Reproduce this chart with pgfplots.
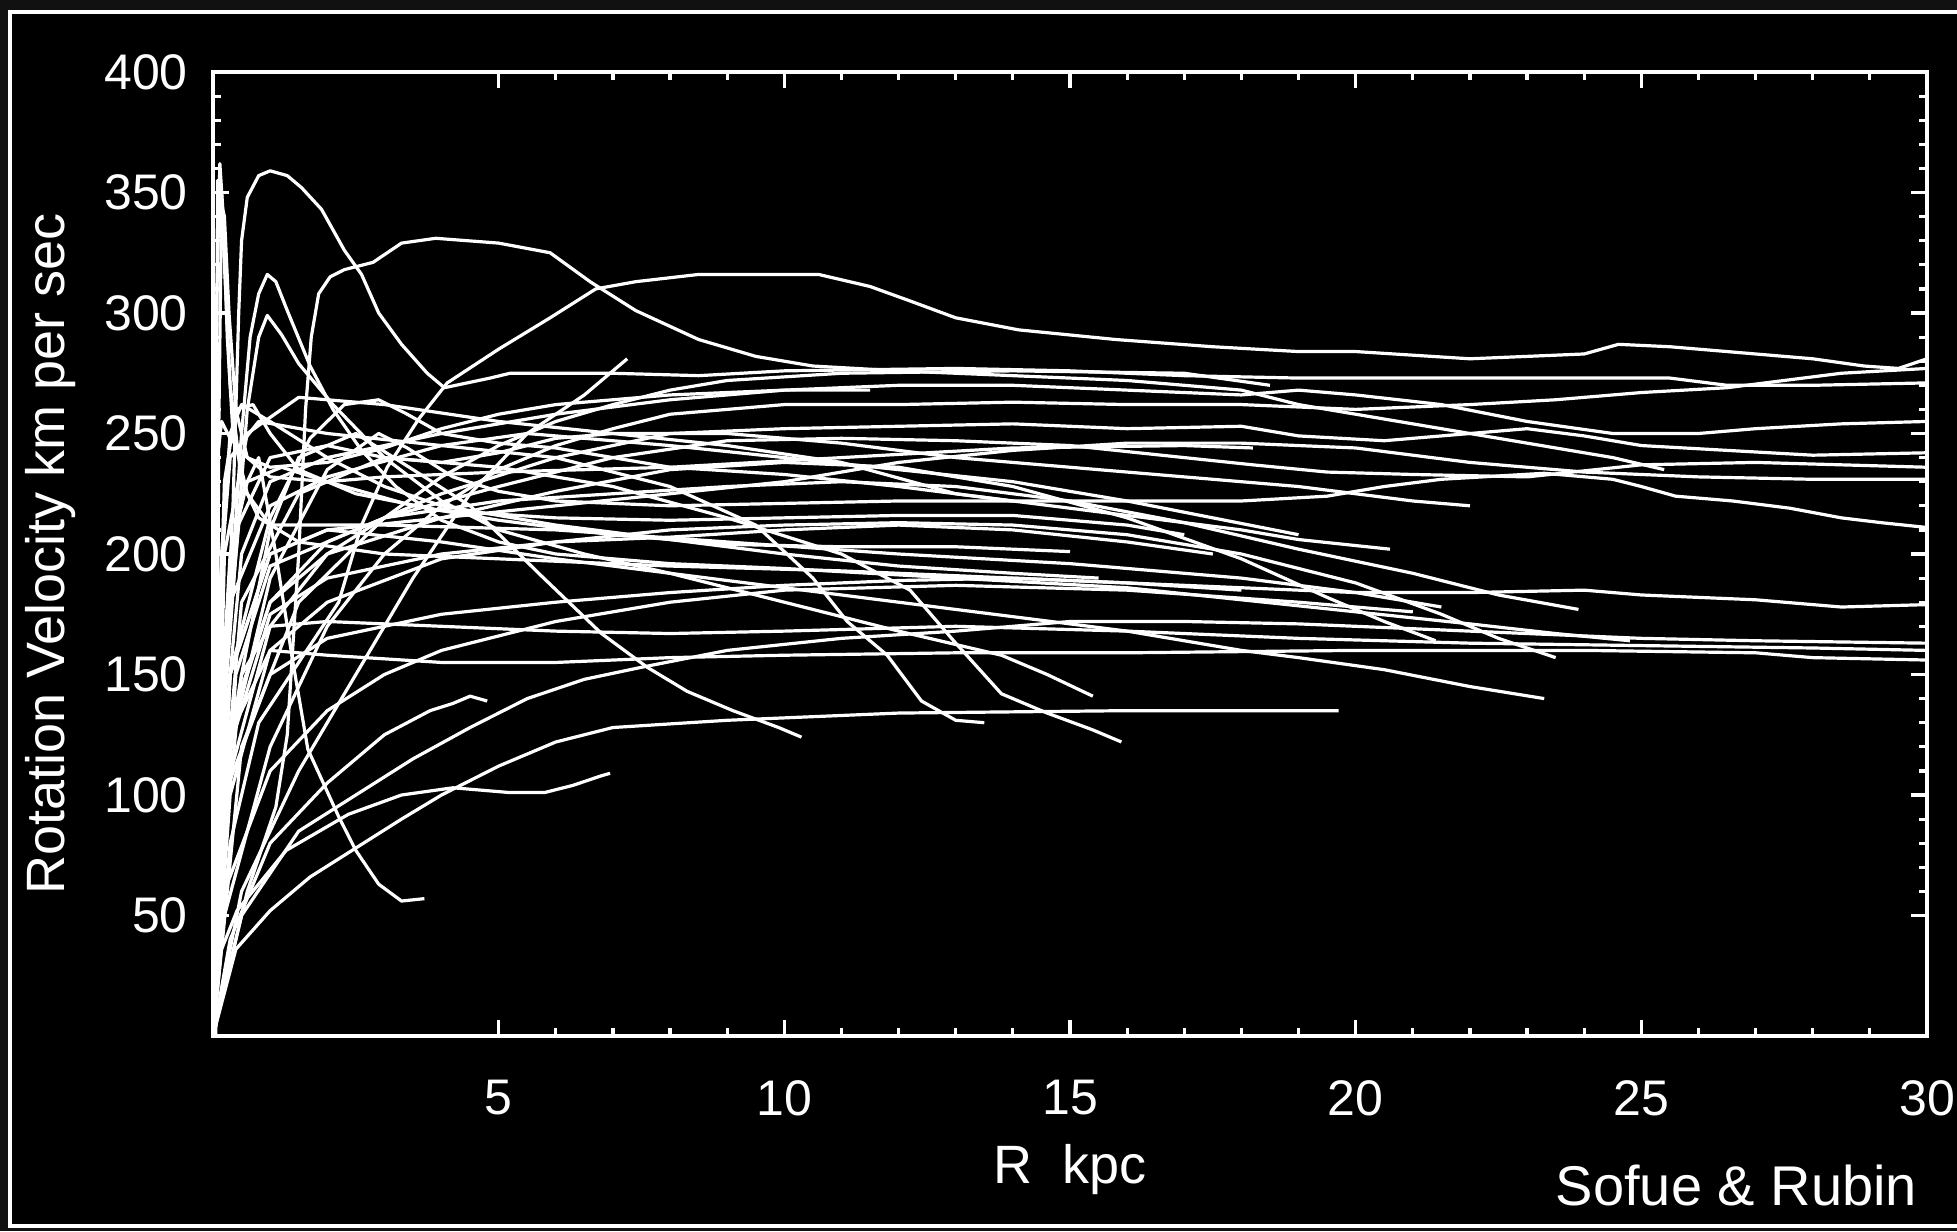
\documentclass[border=0pt]{standalone}
\usepackage{pgfplots}
\pgfplotsset{compat=1.18}
\usepackage{fontspec}
\setmainfont{Liberation Sans}
\definecolor{outerbg}{HTML}{111111}
\tikzset{rc/.style={white, line width=0.8pt, line join=round}}
\begin{document}
\begin{tikzpicture}
\useasboundingbox (-53.25pt,-48.75pt) rectangle (436pt,259pt);
\fill[outerbg] (-53.25pt,-48.75pt) rectangle (436pt,259pt);
\fill[black] (-50.75pt,-47.5pt) rectangle (440pt,256pt);
\draw[white, line width=0.9pt] (-50.75pt,-47.5pt) rectangle (440pt,256pt);
\begin{axis}[
  scale only axis, width=428.5pt, height=241pt,
  at={(0pt,0pt)}, anchor=south west,
  xmin=0, xmax=30, ymin=0, ymax=400,
  xtick={5,10,15,20,25,30}, ytick={50,100,...,400},
  minor x tick num=4, minor y tick num=4,
  tick align=inside,
  major tick length=4pt, minor tick length=2pt,
  axis line style={white, line width=0.9pt},
  tick style={white, line width=0.8pt},
  /pgf/number format/assume math mode=true,
  tick label style={text=white, font=\fontsize{12.5}{14}\selectfont},
  xticklabel style={yshift=-7.5pt},
  yticklabel style={xshift=-2.8pt},
  xlabel={R\ \ kpc}, ylabel={Rotation Velocity km per sec},
  label style={text=white, font=\fontsize{13.5}{15}\selectfont},
  xlabel style={at={(axis description cs:0.5,-0.138)}, anchor=center},
  ylabel style={at={(axis description cs:-0.095,0.5)}, anchor=center},
]
% c1
\addplot[rc] coordinates {(0,0) (0.15,120) (0.35,220) (0.45,300) (0.5,330) (0.6,348) (0.8,357) (1.0,359) (1.3,357) (1.55,352) (1.9,343) (2.3,326) (2.6,316) (2.9,300) (3.3,287) (3.75,275) (4.05,269) (4.85,273) (5.2,275) (7,275) (8.5,274) (10,276) (13,277) (15,276) (17,274) (19,273) (22,273) (25.5,273) (26.5,270) (28,270) (30,271)};
% c2
\addplot[rc] coordinates {(0,0) (0.6,60) (1.1,95) (1.3,125) (1.5,200) (1.62,260) (1.72,290) (1.85,308) (2.05,315) (2.3,318) (2.8,321) (3.3,329) (3.9,331) (5.0,329) (5.9,325) (6.6,313) (7.4,301) (8.5,289) (9.5,282) (10.5,278) (12,276) (14,274) (16,272) (18,268) (19,262) (20,258) (21.5,252) (22.5,248) (23.5,244) (24.5,240) (25.4,235)};
% c3
\addplot[rc] coordinates {(0,0) (0.3,80) (0.8,130) (1.5,155) (2.2,180) (2.6,212) (3.05,236) (3.6,256) (4.1,271) (5,285) (5.9,298) (6.7,310) (7.4,313) (8.5,316) (10.6,316) (11.5,311) (12.2,305) (13,298) (14.1,293) (15.8,289) (17.5,286) (19,284) (20,284) (22,281) (23,282) (24,283) (24.6,287) (25.5,286) (27,283) (28,281) (28.9,278) (29.5,277) (30,281)};
% c4
\addplot[rc] coordinates {(0,0) (0.5,60) (1.5,110) (2.5,150) (3.5,190) (4.5,225) (5.5,250) (6.5,266) (7.25,281)};
% c5
\addplot[rc] coordinates {(0,0) (0.1,100) (0.3,180) (0.5,250) (0.65,290) (0.8,308) (0.95,316) (1.1,313) (1.3,301) (1.7,278) (2.1,260) (2.6,243) (3.2,228) (4,214) (5,205) (6,200) (8,196) (10,194) (13,190) (16,186) (18,181) (20,176) (22,171) (23.5,167) (24.8,164)};
% c6
\addplot[rc] coordinates {(0,0) (0.15,120) (0.4,200) (0.6,260) (0.8,290) (0.95,299) (1.2,291) (1.5,279) (2.1,262) (3,240) (4,222) (5,210) (6.5,200) (8,192) (10,180) (12,168) (13.8,158) (14.6,150) (15.4,141)};
% c7
\addplot[rc] coordinates {(0,0) (0.1,90) (0.25,160) (0.5,225) (0.8,240) (1.1,200) (1.4,155) (1.66,119) (2.2,91) (2.5,77) (2.9,63) (3.3,56) (3.7,57)};
% c8
\addplot[rc] coordinates {(0,0) (0.1,80) (0.3,150) (1,215) (1.7,248) (2.3,262) (2.9,264) (3.4,258) (4,250) (5,246) (6,244) (7,240) (8,236) (10,233) (12,228) (14,222) (16,216) (18,210) (19,206) (20.6,202)};
% c9
\addplot[rc] coordinates {(0,0) (0.1,60) (0.3,120) (1,190) (2,235) (2.9,250) (3.4,244) (4.2,232) (5,226) (6,222) (8,220) (10,221) (12,222) (15,222) (18,222) (19.5,224) (20.5,228) (21.5,231) (23.3,233.5) (24.5,231) (25,228) (25.6,224) (26.6,222) (27.6,219) (28.5,215) (29.2,213) (30,211)};
% c10
\addplot[rc] coordinates {(0,0) (0.2,50) (1,120) (2,170) (3,200) (4,220) (5,235) (6,245) (7,252) (8,258) (10,262) (12,262) (14,263) (16,262) (18,262) (20,260) (22,262) (23.5,264) (25,267) (26.5,269) (27.5,272) (28.5,275) (30,277)};
% c11
\addplot[rc] coordinates {(0,0) (0.1,100) (0.5,200) (1,230) (2,240) (4,250) (6,258) (8,264) (10,268) (12,270) (14,270) (16,268) (18,266) (19,268) (20,266) (21.5,262) (23,255) (24.5,250) (26,250) (27,252) (28.5,254) (30,255)};
% c12
\addplot[rc] coordinates {(0,0) (0.2,120) (1,180) (2,205) (4,225) (6,240) (8,250) (10,252) (12,253) (14,254) (16,252) (18,253) (19,249) (20.5,247) (22,250) (23,252) (24,249) (25,245) (26.5,243) (28,241) (30,242)};
% c13
\addplot[rc] coordinates {(0,0) (0.2,100) (1,170) (2,200) (3,215) (5,228) (7,240) (9,247) (11,248) (13,247) (15,245) (17,240) (18.2,237) (19.5,234) (21,233) (23,232) (25,237) (27,238) (30,236)};
% c14
\addplot[rc] coordinates {(0,0) (0.3,150) (1,200) (2,210) (4,215) (6,220) (8,225) (10,230) (12,238) (14,243) (16,246) (18,246) (20,244) (22,238) (24,234) (26,232) (28,231) (30,231)};
% c15
\addplot[rc] coordinates {(0,0) (0.2,100) (1,150) (2,165) (4,175) (6,180) (8,184) (10,187) (12,189) (14,190) (16,188) (18,186) (20,184) (22,184) (24,185) (25,183) (27,181) (28.5,178) (30,179)};
% c16
\addplot[rc] coordinates {(0,0) (0.5,50) (1.5,85) (2.5,100) (3.5,115) (4.5,128) (5.5,140) (6.5,148) (7.5,153) (9,160) (11,165) (13,168) (15,172) (17,172) (19,171) (21,169) (23,167) (25,165) (27,164) (30,163)};
% c17
\addplot[rc] coordinates {(0,0) (0.2,120) (1,160) (2,158) (4,155) (6,155) (8,157) (10,158) (13,159) (16,159) (20,160) (24,160) (27,159) (28,157) (30,156)};
% c18
\addplot[rc] coordinates {(0,0) (0.4,36) (1,52) (1.7,66) (2.5,78) (3.3,90) (4,100) (5,112) (6,122) (7,128) (9,131) (12,134) (16,135) (19.7,135)};
% c19
\addplot[rc] coordinates {(0,0) (0.3,150) (1,200) (2,210) (4,205) (6,198) (8,192) (10,186) (12,180) (14,174) (16,168) (18,160) (19,157) (20.5,152) (22,145) (23.3,140)};
% c20
\addplot[rc] coordinates {(0,0) (0.2,80) (0.5,150) (1,210) (1.5,240) (2.5,250) (3.5,235) (4.5,220) (5.7,192) (6.8,167) (7.6,153) (8.3,143) (9.1,135) (9.9,128) (10.3,124)};
% c21
\addplot[rc] coordinates {(0,0) (0.1,100) (0.3,180) (1,220) (2,232) (4,245) (6,240) (8,228) (9.5,212) (10.5,190) (11.1,172) (11.8,158) (12.4,139) (13,131) (13.5,130)};
% c22
\addplot[rc] coordinates {(0,0) (0.2,100) (0.5,180) (1.5,225) (3,240) (5,236) (7,228) (9,215) (11,200) (12.2,185) (13,163) (13.8,142) (14.6,134) (15.4,127) (15.9,122)};
% c24
\addplot[rc] coordinates {(0,0) (0.3,120) (1,175) (2,190) (4,200) (6,205) (8,207) (10,210) (12,212) (14,210) (16,205) (17.5,200)};
% c25
\addplot[rc] coordinates {(0,0) (0.4,150) (1,195) (3,215) (5,222) (7,225) (9,228) (11,230) (13,228) (15,222) (17,213) (19,202) (21,192) (22.5,183) (23.9,177)};
% c26
\addplot[rc] coordinates {(0,0) (0.3,130) (1,180) (2,200) (4,215) (6,226) (8,235) (10,238) (12,236) (14,228) (16,215) (18,198) (19.5,182) (20.5,172) (21.4,164)};
% c27
\addplot[rc] coordinates {(0,0) (0.3,100) (1,160) (2,180) (4,198) (6,205) (8,210) (10,212) (12,213) (14,212) (16,208) (18,200) (20,188) (21.5,175) (22.5,165) (23.5,157)};
% c28
\addplot[rc] coordinates {(0,0) (0.3,40) (1,80) (2,105) (3,125) (3.8,135) (4.2,138) (4.5,141) (4.8,139)};
% c29
\addplot[rc] coordinates {(0,0) (0.1,33) (0.42,52) (1.28,77) (2.37,92) (3.3,100) (4.2,103) (5.2,101) (5.8,101) (6.3,104) (6.8,108) (6.95,109)};
% c30
\addplot[rc] coordinates {(0,0) (0.15,100) (0.5,150) (1,170) (2,172) (4,170) (6,168) (8,167) (10,168) (13,170) (16,168) (19,165) (22,163) (25,162) (28,161) (30,160)};
% c31
\addplot[rc] coordinates {(0,0) (0.2,60) (1,110) (2,135) (3,150) (4,160) (6,172) (8,180) (10,185) (13,187) (16,185) (19,180) (21,176)};
% c32
\addplot[rc] coordinates {(0,0) (0.06,300) (0.12,362) (0.18,340) (0.25,290) (0.35,250) (0.6,225) (1,212) (3,212) (6,210) (9,205) (12,200) (15,196) (18,190) (20,184) (21.5,178)};
% c33
\addplot[rc] coordinates {(0.02,0) (0.05,200) (0.08,355) (0.15,350) (0.2,320) (0.3,270) (0.5,230) (0.8,215) (1.5,205) (3,200) (5,198) (8,195) (11,193) (14,190) (16,188) (18,185)};
% c34
\addplot[rc] coordinates {(0.05,0) (0.1,250) (0.15,345) (0.2,340) (0.28,300) (0.4,260) (0.6,240) (1,232) (2,230) (3,232) (5,234) (8,236) (11,240) (14,244) (17,245) (18.2,244)};
% c35
\addplot[rc] coordinates {(0,0) (0.2,200) (0.6,250) (1.5,265) (3,262) (5,255) (7,250) (9,245) (11,238) (13,225) (14,222)};
% c36
\addplot[rc] coordinates {(0,0) (0.1,180) (0.3,240) (0.8,255) (2,250) (4,245) (5.5,250) (6.5,248) (8,245) (10,240) (12,235) (14,230) (16,222) (17.5,215) (19,208)};
% c37
\addplot[rc] coordinates {(0,0) (0.15,150) (0.4,210) (1,240) (2,245) (3,240) (4,238) (5,242) (6,248) (7,250) (9,250) (11,246) (13,240) (15,236) (17,232) (19,228) (21,222) (22,220)};
% c38
\addplot[rc] coordinates {(0,0) (0.5,120) (1.5,180) (3,215) (4,232) (5,245) (6,255) (7,262) (8,268) (9,272) (11,275) (14,276) (17,275) (18.5,270)};
% c39
\addplot[rc] coordinates {(0,0) (0.1,150) (0.2,230) (0.4,260) (0.7,262) (1,250) (1.5,235) (2.5,225) (4,218) (6,215) (8,214) (10,215) (12,216) (14,216) (16,212) (17,208)};
% c40
\addplot[rc] coordinates {(0,0) (0.15,200) (0.3,250) (0.5,262) (1,255) (2,240) (3,228) (4,220) (6,212) (8,206) (10,200) (12,195) (14,192) (15.5,190)};
% c41
\addplot[rc] coordinates {(0,0) (0.1,120) (0.3,200) (0.6,230) (1.2,236) (2,230) (3.5,220) (5,214) (7,208) (9,204) (11,203) (13,203) (15,201)};
% c42
\addplot[rc] coordinates {(0,0) (0.08,240) (0.15,255) (0.3,248) (0.6,240) (1,236) (2,238) (3,244) (4,252) (5,258) (6,262) (8,266) (10,268) (11.5,268)};
\end{axis}
\node[anchor=base west, text=white, font=\fontsize{14}{16}\selectfont, inner sep=0pt] at (335.5pt,-42.25pt) {Sofue \& Rubin};
\end{tikzpicture}
\end{document}
